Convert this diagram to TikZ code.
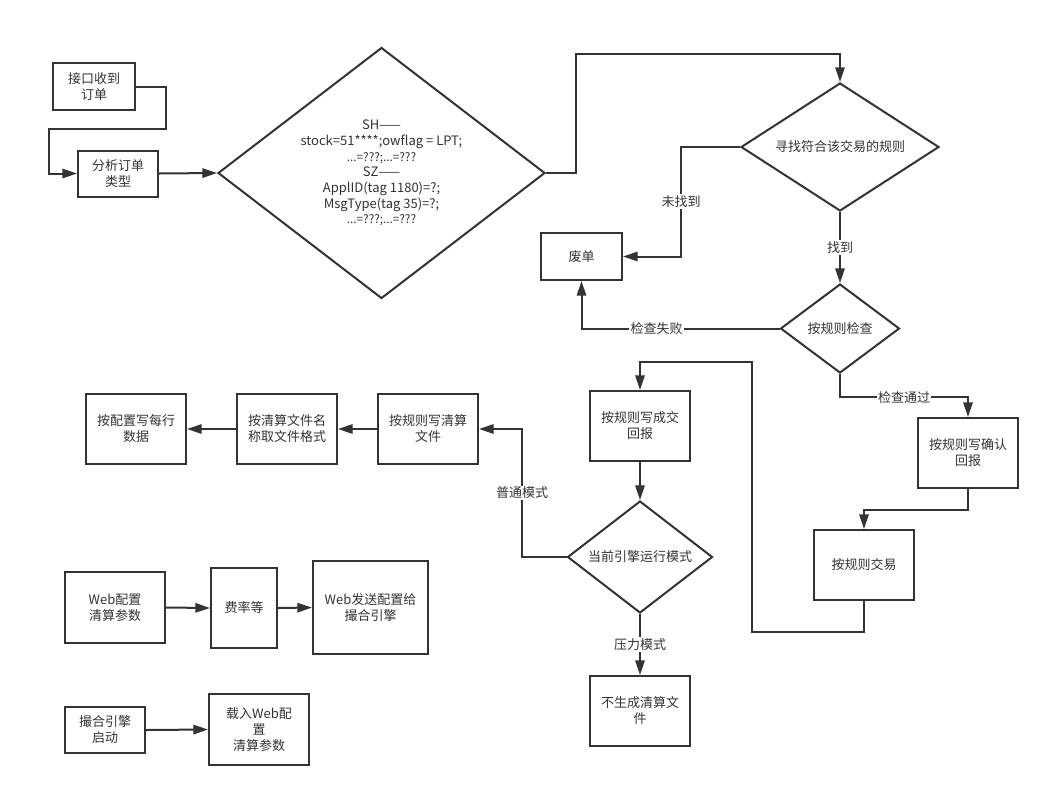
\documentclass[tikz,border=0pt]{standalone}
\usepackage{fontspec}
\setmainfont{Noto Sans CJK SC}
\usetikzlibrary{arrows.meta,shapes.geometric}
\definecolor{ink}{HTML}{333333}
\tikzset{
	every node/.style={font=\fontsize{9.75}{12}\selectfont, text=ink},
	flowbox/.style 2 args={draw=ink, line width=1.5pt, inner sep=0pt, align=center, minimum width=#1*0.75pt, minimum height=#2*0.75pt},
	flowdia/.style n args={3}{draw=ink, line width=1.5pt, diamond, inner sep=0pt, align=center, shape aspect=#3, minimum width=#1*0.75pt, minimum height=#2*0.75pt},
	flowline/.style={draw=ink, line width=1.5pt, -{Triangle[length=11pt,width=7pt]}},
	flowlbl/.style={fill=white, inner sep=1pt},
}
\newcommand{\smalldots}{{\fontsize{8.8}{11.75}\selectfont ...=???;...=???}}

\begin{document}
\begin{tikzpicture}[x=0.75pt, y=-0.75pt]
			%%%%% START %%%%%
			\useasboundingbox[fill=white] (0,0) rectangle (1049,797);
			
			\node[flowbox={82}{47}] (recv) at (94,86.5) {接口收到\\订单};
			\node[flowbox={80}{46}] (parse) at (118,173.5) {分析订单\\类型};
			\node[flowdia={327}{251}{1.3}, font=\fontsize{9.75}{11.75}\selectfont] (market) at (381.5,173) {SH——\\stock=51****;owflag = LPT;\\\smalldots\\SZ——\\ApplID(tag 1180)=?;\\MsgType(tag 35)=?;\\\smalldots};
			
			\node[flowdia={198}{128}{1.55}] (findrule) at (840,147) {寻找符合该交易的规则};
			\node[flowbox={81}{47}] (waste) at (581.5,256.5) {废单};
			\node[flowdia={119}{89}{1.34}] (check) at (840,328.5) {按规则检查};
			\node[flowbox={100}{70}] (confirm) at (968,453) {按规则写确认\\回报};
			\node[flowbox={100}{70}] (trade) at (864,565) {按规则交易};
			
			\node[flowbox={100}{70}] (deal) at (640,426) {按规则写成交\\回报};
			\node[flowdia={145}{112}{1.29}] (mode) at (640,557) {当前引擎运行模式};
			\node[flowbox={100}{70}] (nofile) at (640,711) {不生成清算文\\件};
			
			\node[flowbox={100}{70}] (clrfile) at (428,429) {按规则写清算\\文件};
			\node[flowbox={100}{70}] (fmt) at (287,429) {按清算文件名\\称取文件格式};
			\node[flowbox={100}{70}] (rows) at (136,429) {按配置写每行\\数据};
			
			\node[flowbox={100}{71}] (webcfg) at (115,607.5) {Web配置\\清算参数};
			\node[flowbox={66}{80}] (rate) at (244,608) {费率等};
			\node[flowbox={115}{93}] (websend) at (370.5,607.5) {Web发送配置给\\撮合引擎};
			
			\node[flowbox={80}{46}] (start) at (105,730) {撮合引擎\\启动};
			\node[flowbox={100}{71}] (load) at (259,729.5) {载入Web配\\置\\清算参数};
			
			%%%%% CONNECTORS %%%%%
			\draw[flowline] (recv.east) -- ++(30,0) |- ++(-117.5,42) |- (parse.west);
			\draw[flowline] (parse.east) -- (market.west);
			\draw[flowline] (market.east) -- ++(30,0) -- ++(0,-119) -| (findrule.north);
			\draw[flowline] (findrule.west) -- ++(-59,0) |- node[flowlbl, pos=0.25] {未找到} (waste.east);
			\draw[flowline] (findrule.south) -- node[flowlbl] {找到} (check.north);
			\draw[flowline] (check.west) -| node[flowlbl, pos=0.31] {检查失败} (waste.south);
			\draw[flowline] (check.south) -- ++(0,23) -| node[flowlbl, pos=0.25] {检查通过} (confirm.north);
			\draw[flowline] (confirm.south) -- ++(0,21) -| (trade.north);
			\draw[flowline] (trade.south) -- ++(0,31) -| ++(-112,-270) -| (deal.north);
			\draw[flowline] (deal.south) -- (mode.north);
			\draw[flowline] (mode.west) -- ++(-44.5,0) |- node[flowlbl, pos=0.25] {普通模式} (clrfile.east);
			\draw[flowline] (mode.south) -- node[flowlbl] {压力模式} (nofile.north);
			\draw[flowline] (clrfile.west) -- (fmt.east);
			\draw[flowline] (fmt.west) -- (rows.east);
			
			\draw[flowline] (webcfg.east) -- (rate.west);
			\draw[flowline] (rate.east) -- (websend.west);
			\draw[flowline] (start.east) -- (load.west);
			%%%%% END %%%%%
\end{tikzpicture}
\end{document}
